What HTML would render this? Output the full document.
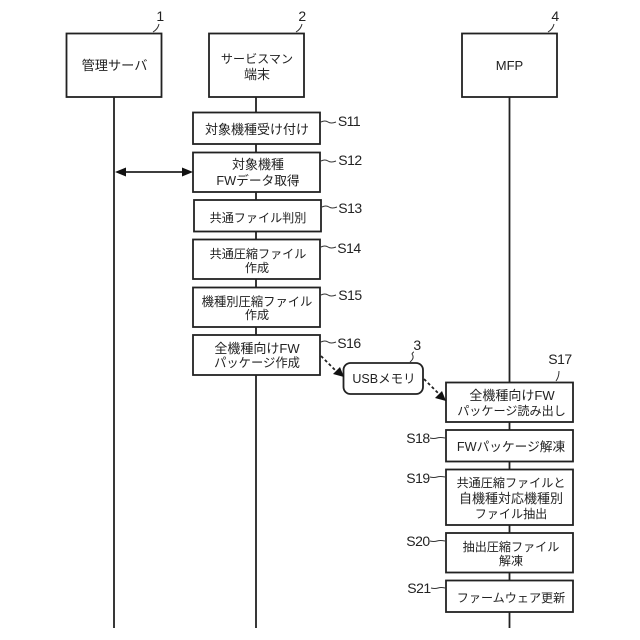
<!DOCTYPE html>
<html><head><meta charset="utf-8"><style>
html,body{margin:0;padding:0;background:#fff}
svg{display:block}
text{font-family:"Liberation Sans","Noto Sans CJK JP",sans-serif;font-size:13px;fill:#222;text-anchor:middle}
.s{font-size:12.1px}
.l{font-size:14px;letter-spacing:-.5px}
.b{fill:#fff;stroke:#222;stroke-width:1.8}
.c{fill:none;stroke:#333;stroke-width:1}
.v{stroke:#222;stroke-width:1.8}
</style></head><body>
<svg width="640" height="640" viewBox="0 0 640 640" xmlns="http://www.w3.org/2000/svg">
<line class="v" x1="114" y1="97" x2="114" y2="628"/>
<line class="v" x1="256" y1="97" x2="256" y2="628"/>
<line class="v" x1="509.5" y1="97" x2="509.5" y2="628"/>
<rect class="b" x="66.5" y="33.5" width="95" height="63.5"/>
<rect class="b" x="209" y="33.5" width="95" height="63.5"/>
<rect class="b" x="462" y="33.5" width="95" height="63.5"/>
<text x="114.5" y="70" style="font-size:13.2px">管理サーバ</text>
<text x="257" y="63" class="s">サービスマン</text><text x="257" y="79">端末</text>
<text x="509.5" y="70">MFP</text>
<rect class="b" x="193" y="112.5" width="127" height="31.5"/>
<rect class="b" x="193" y="152.5" width="127" height="39.5"/>
<rect class="b" x="194" y="200" width="127" height="31.5"/>
<rect class="b" x="193" y="239.5" width="127" height="39.5"/>
<rect class="b" x="193" y="287.5" width="127" height="39.5"/>
<rect class="b" x="193" y="335" width="127" height="40"/>
<text x="257" y="134">対象機種受け付け</text>
<text x="258" y="169">対象機種</text><text x="258" y="185" style="font-size:12.7px">FWデータ取得</text>
<text x="258" y="222" class="s">共通ファイル判別</text>
<text x="258" y="258" class="s">共通圧縮ファイル</text><text x="257" y="272" class="s">作成</text>
<text x="257" y="306" style="font-size:12.3px">機種別圧縮ファイル</text><text x="257" y="319" class="s">作成</text>
<text x="257" y="353">全機種向けFW</text><text x="257" y="367" style="font-size:12.3px">パッケージ作成</text>
<rect class="b" x="446" y="382.5" width="127" height="39.5"/>
<rect class="b" x="446" y="430" width="127" height="31.5"/>
<rect class="b" x="446" y="469.5" width="127" height="55.5"/>
<rect class="b" x="446" y="533" width="127" height="39.5"/>
<rect class="b" x="446" y="580.5" width="127" height="31.5"/>
<text x="512" y="400">全機種向けFW</text><text x="511.5" y="415" class="s">パッケージ読み出し</text>
<text x="511" y="451" style="font-size:12.7px">FWパッケージ解凍</text>
<text x="511" y="487" class="s">共通圧縮ファイルと</text><text x="511" y="503">自機種対応機種別</text><text x="511" y="518" class="s">ファイル抽出</text>
<text x="511" y="551" class="s">抽出圧縮ファイル</text><text x="511" y="565" class="s">解凍</text>
<text x="511" y="602" class="s">ファームウェア更新</text>
<rect class="b" x="343.5" y="363" width="79.5" height="31" rx="7"/>
<text x="384" y="383" style="font-size:12.5px">USBメモリ</text>
<line class="v" x1="124" y1="172" x2="184" y2="172"/>
<polygon points="115,172 126,167.5 126,176.5" fill="#111"/>
<polygon points="193,172 182,167.5 182,176.5" fill="#111"/>
<line x1="321" y1="356" x2="337" y2="372" stroke="#222" stroke-width="1.8" stroke-dasharray="3 2.5"/>
<polygon points="344,377 333,374 340,367" fill="#111"/>
<line x1="424" y1="379" x2="439" y2="394" stroke="#222" stroke-width="1.8" stroke-dasharray="3 2.5"/>
<polygon points="446,401 435,398 442,391" fill="#111"/>
<text class="l" x="160" y="21">1</text>
<text class="l" x="302" y="21">2</text>
<text class="l" x="555" y="21">4</text>
<text class="l" x="417" y="350">3</text>
<path class="c" d="M153 32q5-3 6-8M296 32q5-3 6-8M548 32q5-3 6-8M410 362q5-4 2-8q1-2 2-2"/>
<text class="l" x="349" y="126">S11</text>
<text class="l" x="350" y="165">S12</text>
<text class="l" x="350" y="213">S13</text>
<text class="l" x="349" y="253">S14</text>
<text class="l" x="350" y="300">S15</text>
<text class="l" x="349" y="348">S16</text>
<text class="l" x="560" y="364">S17</text>
<text class="l" x="418" y="443">S18</text>
<text class="l" x="418" y="483">S19</text>
<text class="l" x="418" y="546">S20</text>
<text class="l" x="419" y="593">S21</text>
<path class="c" d="M321 122q4-2 7 0t8 0M321 161q4-2 7 0t8 0M322 207q4-2 7 0t8 0M321 247q4-2 7 0t8 0M321 295q4-2 7 0t8 0M321 342q4-2 7 0t8 0M556 381q3-4 3-10M430 438q4 1 7 0t8 0M430 477q4 1 7 0t8 0M430 541q4 1 7 0t8 0M431 588q4 1 7 0t7 0"/>
</svg>
</body></html>
